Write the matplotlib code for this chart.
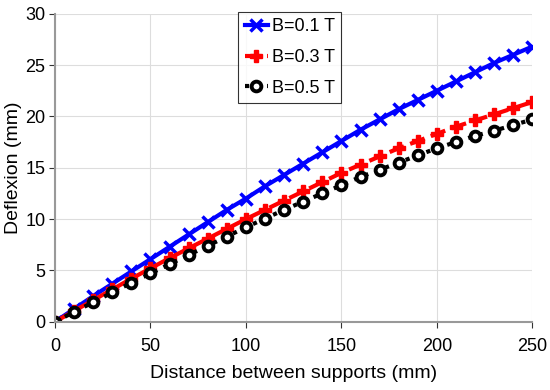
import matplotlib
matplotlib.use("Agg")
import matplotlib.pyplot as plt

plt.rcParams['font.family'] = ['Liberation Sans', 'DejaVu Sans']

distance = [0, 10, 20, 30, 40, 50, 60, 70, 80, 90, 100, 110, 120, 130, 140,
            150, 160, 170, 180, 190, 200, 210, 220, 230, 240, 250]
b01 = [0, 1.25, 2.5, 3.7, 4.9, 6.1, 7.3, 8.5, 9.7, 10.9, 12.0, 13.2, 14.3,
       15.4, 16.5, 17.6, 18.7, 19.7, 20.7, 21.6, 22.5, 23.4, 24.3, 25.2, 26.0, 26.8]
b03 = [0, 1.05, 2.1, 3.15, 4.2, 5.2, 6.2, 7.15, 8.1, 9.05, 10.0, 10.9, 11.8,
       12.7, 13.6, 14.5, 15.3, 16.1, 16.9, 17.6, 18.3, 19.0, 19.6, 20.2, 20.8, 21.4]
b05 = [0, 0.95, 1.9, 2.85, 3.8, 4.7, 5.6, 6.5, 7.4, 8.3, 9.2, 10.05, 10.9,
       11.7, 12.5, 13.3, 14.1, 14.8, 15.5, 16.2, 16.9, 17.5, 18.1, 18.6, 19.15, 19.7]

fig, ax = plt.subplots(figsize=(5.5, 3.9), dpi=100)
fig.subplots_adjust(left=0.1, right=0.968, bottom=0.175, top=0.965)

ax.plot(distance, b01, color="blue", lw=3, marker="x", ms=8, mew=2.5,
        label="B=0.1 T")
ax.plot(distance, b03, color="red", lw=3, ls="--", marker="P", ms=9,
        label="B=0.3 T")
ax.plot(distance, b05, color="black", lw=3, ls=":", marker="o", ms=7,
        mew=2.8, mfc="white", label="B=0.5 T")

ax.set_xlim(0, 250)
ax.set_ylim(0, 30)
ax.set_xticks([0, 50, 100, 150, 200, 250])
ax.set_yticks([0, 5, 10, 15, 20, 25, 30])
ax.tick_params(labelsize=13, direction="out", length=4, color="#333333")
ax.tick_params(axis="x", pad=8)
ax.tick_params(axis="y", pad=3)
ax.grid(True, color="#dddddd", lw=0.8)
ax.set_axisbelow(True)
for s in ["top", "right"]:
    ax.spines[s].set_visible(False)
for s in ["left", "bottom"]:
    ax.spines[s].set_color("#999999")
    ax.spines[s].set_linewidth(1.5)

ax.set_xlabel("Distance between supports (mm)", fontsize=14, labelpad=7)
ax.set_ylabel("Deflexion (mm)", fontsize=14, labelpad=2)

leg = ax.legend(loc="upper left", bbox_to_anchor=(0.384, 1.005), fontsize=13,
                fancybox=False, edgecolor="black", handlelength=1.3,
                handletextpad=0.2, borderpad=0.35, labelspacing=0.75,
                borderaxespad=0)
leg.get_frame().set_linewidth(0.8)

fig.savefig("out.png", dpi=100)
